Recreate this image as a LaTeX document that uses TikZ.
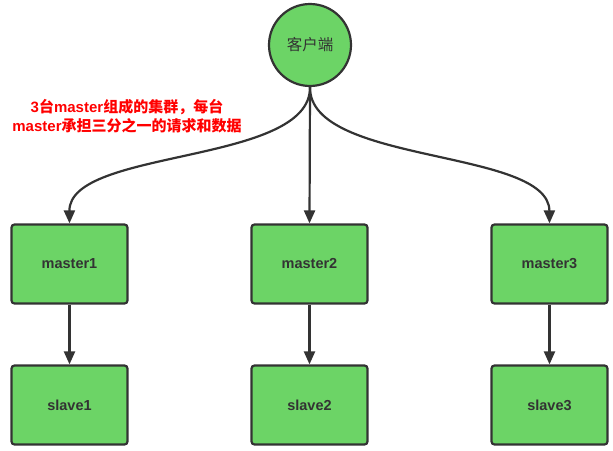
\documentclass[tikz,border=0pt]{standalone}
\usepackage{fontspec}
\setmainfont{Liberation Sans}
\newfontfamily\cjk{Noto Sans CJK SC}
\newfontfamily\cjkb{Noto Sans CJK SC Bold}
\usetikzlibrary{arrows.meta}
\definecolor{boxgreen}{HTML}{6CD466}
\definecolor{edge}{HTML}{333333}
\tikzset{
  box/.style={draw=edge, line width=2.2pt, fill=boxgreen, rounded corners=3pt,
    minimum width=116pt, minimum height=79pt, inner sep=0pt,
    font=\fontsize{14.5}{16}\selectfont\bfseries, text=edge},
  client/.style={circle, draw=edge, line width=2.2pt, fill=boxgreen, minimum size=82pt,
    inner sep=0pt, font=\cjk\fontsize{15.5}{17}\selectfont, text=edge},
  conn/.style={draw=edge, line width=2.2pt, -{Triangle[length=13pt,width=11pt]}},
  note/.style={text=red, align=center, font=\fontsize{15}{19}\selectfont\bfseries}
}
\begin{document}
\begin{tikzpicture}[x=1pt,y=-1pt]
\useasboundingbox (0,0) rectangle (613,450);
\node[client] (c) at (310,45) {客户端};
\node[box] (m1) at (69.5,264) {master1};
\node[box] (m2) at (309.5,264) {master2};
\node[box] (m3) at (549.5,264) {master3};
\node[box] (s1) at (69.5,405) {slave1};
\node[box] (s2) at (309.5,405) {slave2};
\node[box] (s3) at (549.5,405) {slave3};
\node[note] (t) at (127,116) {3{\cjkb 台}master{\cjkb 组成的集群，每台}\\master{\cjkb 承担三分之一的请求和数据}};
\draw[conn] (c.south) .. controls (311,165) and (69,148) .. (m1.north);
\draw[conn] (c.south) -- (m2.north);
\draw[conn] (c.south) .. controls (309,165) and (549,148) .. (m3.north);
\draw[conn] (m1) -- (s1);
\draw[conn] (m2) -- (s2);
\draw[conn] (m3) -- (s3);
\end{tikzpicture}
\end{document}
